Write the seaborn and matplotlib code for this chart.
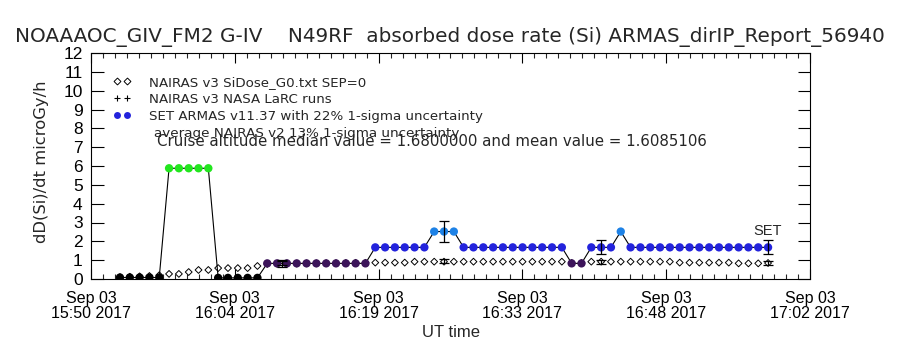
import numpy as np
import pandas as pd
import matplotlib
matplotlib.use("Agg")
import matplotlib.pyplot as plt
import seaborn as sns
from matplotlib.lines import Line2D
from matplotlib.ticker import FixedLocator, MultipleLocator

# ---------------- data ----------------
title = "NOAAAOC_GIV_FM2 G-IV    N49RF  absorbed dose rate (Si) ARMAS_dirIP_Report_56940"
ylabel = "dD(Si)/dt microGy/h"
xlabel = "UT time"
xtick_minutes = [0, 14.4, 28.8, 43.2, 57.6, 72]
xtick_labels = ["Sep 03\n15:50 2017", "Sep 03\n16:04 2017", "Sep 03\n16:19 2017",
                "Sep 03\n16:33 2017", "Sep 03\n16:48 2017", "Sep 03\n17:02 2017"]
ytick_values = [0, 1, 2, 3, 4, 5, 6, 7, 8, 9, 10, 11, 12]

# seconds after 15:50 UT
time_sec = [174, 233, 292, 351, 410, 469, 528, 587, 646, 705, 764, 823, 882, 941, 1000,
            1059, 1118, 1177, 1236, 1295, 1354, 1413, 1472, 1531, 1590, 1649, 1708, 1767,
            1826, 1885, 1944, 2003, 2062, 2121, 2180, 2239, 2298, 2357, 2416, 2475, 2534,
            2593, 2652, 2711, 2770, 2829, 2888, 2947, 3006, 3065, 3124, 3183, 3242, 3301,
            3360, 3419, 3478, 3537, 3596, 3655, 3714, 3773, 3832, 3891, 3950, 4009, 4068]

set_dose = [0.08, 0.08, 0.08, 0.08, 0.08,
            5.88, 5.88, 5.88, 5.88, 5.88,
            0.06, 0.06, 0.06, 0.06, 0.06,
            0.83, 0.83, 0.83, 0.83, 0.83, 0.83, 0.83, 0.83, 0.83, 0.83, 0.83,
            1.68, 1.68, 1.68, 1.68, 1.68, 1.68,
            2.52, 2.52, 2.52,
            1.68, 1.68, 1.68, 1.68, 1.68, 1.68, 1.68, 1.68, 1.68, 1.68, 1.68,
            0.83, 0.83,
            1.68, 1.68, 1.68,
            2.52,
            1.68, 1.68, 1.68, 1.68, 1.68, 1.68, 1.68, 1.68, 1.68, 1.68, 1.68, 1.68, 1.68, 1.68, 1.68]

nairas_dose = [0.10, 0.12, 0.14, 0.16, 0.20,
               0.27, 0.27, 0.37, 0.48, 0.48,
               0.58, 0.58, 0.58, 0.58, 0.69,
               0.80, 0.81, 0.82, 0.82, 0.83, 0.83, 0.84, 0.84, 0.85, 0.86, 0.86,
               0.87, 0.87, 0.87, 0.87, 0.92, 0.92,
               0.92, 0.92, 0.92, 0.92, 0.92, 0.92, 0.92, 0.92, 0.92, 0.92, 0.92, 0.92, 0.92, 0.92,
               0.85, 0.85,
               0.92, 0.92, 0.92, 0.92, 0.92, 0.92, 0.92, 0.92, 0.92,
               0.87, 0.87, 0.87, 0.87, 0.87, 0.87,
               0.83, 0.83, 0.83, 0.85]

err_time_sec = [1146, 2121, 3065, 4068]
err_set = [0.83, 2.52, 1.68, 1.68]
err_nairas = [0.83, 0.95, 0.90, 0.85]
set_unc = 0.22
nairas_unc = 0.13

legend_labels = ["NAIRAS v3 SiDose_G0.txt SEP=0",
                 "NAIRAS v3 NASA LaRC runs",
                 "SET ARMAS v11.37 with 22% 1-sigma uncertainty"]
note1 = "average NAIRAS v2 13% 1-sigma uncertainty"
note2 = "Cruise altitude median value = 1.6800000 and mean value = 1.6085106"

# ---------------- styling ----------------
sns.set_style("white")
plt.rcParams["font.family"] = ["DejaVu Sans"]
narrow = ["Liberation Sans Narrow", "Liberation Sans", "DejaVu Sans"]

level_colors = {"k": "#000000", "p": "#3c145a", "b": "#2323dc", "lb": "#1e82e6", "g": "#22e61e"}

def level(v):
    if v < 0.3:
        return "k"
    if v < 1.2:
        return "p"
    if v < 2.0:
        return "b"
    if v < 4.0:
        return "lb"
    return "g"

df = pd.DataFrame({"t": np.array(time_sec) / 60.0, "set": set_dose, "nairas": nairas_dose})
df["lvl"] = [level(v) for v in df["set"]]

fig = plt.figure(figsize=(9, 3.5), dpi=100)
ax = fig.add_axes([91 / 900, 71 / 350, 719 / 900, 226 / 350])

sns.scatterplot(data=df, x="t", y="nairas", marker="D", s=12, facecolor="none",
                edgecolor="black", linewidth=0.7, ax=ax, zorder=2)
sns.lineplot(data=df, x="t", y="set", color="black", lw=0.8, estimator=None, sort=False,
             ax=ax, zorder=3)
sns.scatterplot(data=df, x="t", y="set", hue="lvl", palette=level_colors, s=36,
                edgecolor="none", legend=False, ax=ax, zorder=4)

et = np.array(err_time_sec) / 60.0
ax.errorbar(et, err_set, yerr=np.array(err_set) * set_unc, fmt="none", ecolor="black",
            elinewidth=0.9, capsize=3.5, capthick=0.9, zorder=5)
ax.errorbar(et, err_nairas, yerr=np.array(err_nairas) * nairas_unc, fmt="none", ecolor="black",
            elinewidth=0.9, capsize=3.5, capthick=0.9, zorder=5)

ax.text(df["t"].iloc[-1], df["set"].iloc[-1] + 0.5, "SET", ha="center", va="bottom",
        fontsize=10.5, family=narrow)

ax.set_xlim(0, 72)
ax.set_ylim(0, 12)
ax.xaxis.set_major_locator(FixedLocator(xtick_minutes))
ax.set_xticklabels(xtick_labels, family=narrow, fontsize=11.5, linespacing=1.0)
ax.xaxis.set_minor_locator(MultipleLocator(1.2))
ax.yaxis.set_major_locator(FixedLocator(ytick_values))
ax.set_yticklabels([str(v) for v in ytick_values], family=narrow, fontsize=12.5)
ax.tick_params(axis="x", which="major", direction="in", length=7, width=0.8, top=True,
               bottom=True, pad=9, colors="black")
ax.tick_params(axis="x", which="minor", direction="in", length=3.5, width=0.8, top=True,
               bottom=True)
ax.tick_params(axis="y", which="major", direction="in", length=9, width=0.8, left=True,
               right=True, pad=6, colors="black")
for s in ax.spines.values():
    s.set_color("black")
    s.set_linewidth(0.8)
ax.grid(False)

ax.set_xlabel(xlabel, family=narrow, fontsize=12)
ax.xaxis.set_label_coords(0.5, -0.235)
ax.xaxis.label.set_va("center")
ax.set_ylabel(ylabel, fontsize=11.8)
ax.yaxis.set_label_coords(-0.069, 0.52)
ax.yaxis.label.set_va("center")

handles = [Line2D([], [], ls="none", marker="D", ms=3.5, mfc="none", mec="black", mew=0.7),
           Line2D([], [], ls="none", marker="+", ms=5, mec="black", mew=0.8),
           Line2D([], [], ls="none", marker="o", ms=5, mfc="#2323dc", mec="none")]
leg = ax.legend(handles, legend_labels, loc="upper left", bbox_to_anchor=(0.03, 0.9),
                frameon=False, numpoints=2, handlelength=1.4, handletextpad=1.3,
                labelspacing=0.32, fontsize=9.6, borderaxespad=0, borderpad=0)
ax.text(0.0876, 0.645, note1, transform=ax.transAxes, fontsize=9.7, va="center")
ax.text(0.0915, 0.607, note2, transform=ax.transAxes, fontsize=10.8, va="center")

fig.text(0.5, 1 - 37 / 350, title, ha="center", va="center", fontsize=14.4)

fig.savefig("out.png", dpi=100)
